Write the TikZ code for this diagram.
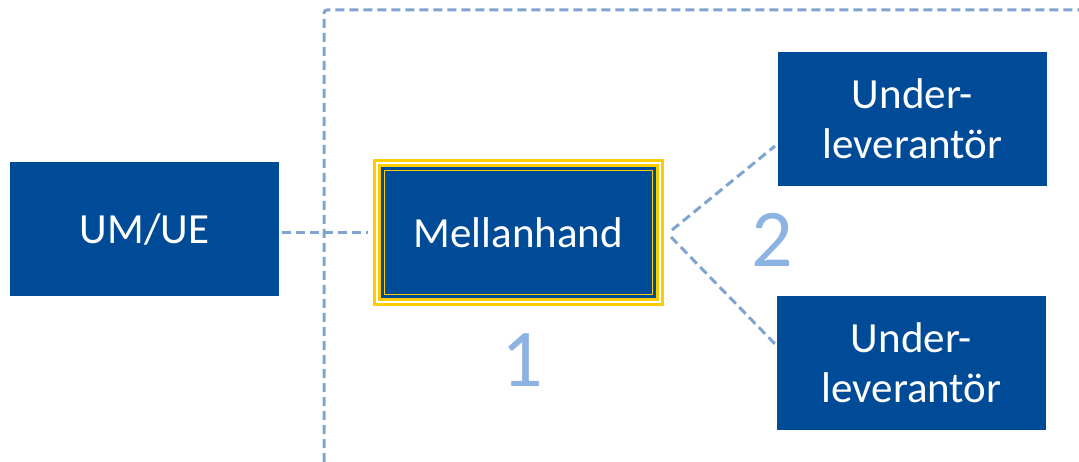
\documentclass[tikz,border=0pt]{standalone}
\usepackage{fontspec}
\setmainfont{Carlito}
\definecolor{boxblue}{HTML}{004B97}
\definecolor{dashblue}{HTML}{7FA4CF}
\definecolor{numblue}{HTML}{8DB3E2}
\definecolor{gold}{HTML}{FFCC00}
\tikzset{
  bluebox/.style={fill=boxblue, text=white, inner sep=0pt, align=center,
    font=\fontsize{43}{50}\selectfont},
  conn/.style={draw=dashblue, line width=3pt, dash pattern=on 9pt off 5pt},
  numlabel/.style={text=numblue, font=\fontsize{82}{82}\selectfont, inner sep=0pt}
}
\begin{document}
\begin{tikzpicture}[x=1pt,y=-1pt]
\useasboundingbox (0,0) rectangle (1079,462);
% frame
\draw[conn, rounded corners=3pt] (324,462) -- (324,10) -- (1079,10);
% boxes
\node[bluebox, minimum width=269pt, minimum height=134pt] (um) at (144.5,229) {UM/UE};
\node[bluebox, minimum width=269pt, minimum height=134pt] (u1) at (912.5,119) {Under-\\leverantör};
\node[bluebox, minimum width=269pt, minimum height=134pt] (u2) at (911.5,363) {Under-\\leverantör};
% Mellanhand layered border
\fill[gold] (373,159) rectangle (664,306);
\fill[white] (376,162) rectangle (661,303);
\fill[gold] (378,164) rectangle (659,301);
\fill[boxblue] (381,167) rectangle (656,298);
\draw[gold, line width=1.3pt] (384.5,170.5) rectangle (652.5,294.5);
\node[text=white, inner sep=0pt, minimum width=291pt, minimum height=147pt,
  font=\fontsize{43}{50}\selectfont] (mid) at (518.5,232.5) {Mellanhand};
% numbers
\node[numlabel] (n1) at (522,360) {1};
\node[numlabel] (n2) at (772,240) {2};
% connectors
\coordinate (a1) at (672,230);
\coordinate (a2) at (671,237);
\coordinate (b1) at (775,146);
\coordinate (b2) at (775,344);
\draw[conn] ([xshift=3pt]um.east |- 0,233) -- ([xshift=-5pt]mid.west |- 0,233);
\draw[conn] (a1) -- (b1);
\draw[conn] (a2) -- (b2);
\end{tikzpicture}
\end{document}
